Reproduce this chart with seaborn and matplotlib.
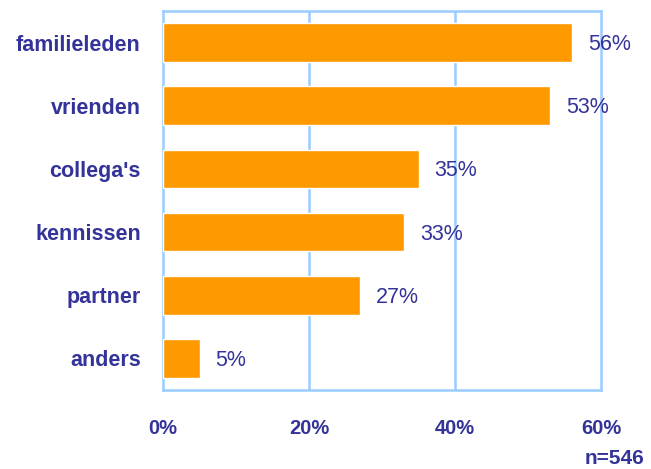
import matplotlib
matplotlib.use("Agg")
import matplotlib.pyplot as plt
import seaborn as sns
import pandas as pd

categories = ["familieleden", "vrienden", "collega's", "kennissen", "partner", "anders"]
values = [56, 53, 35, 33, 27, 5]
xticks = [0, 20, 40, 60]
xtick_labels = ["0%", "20%", "40%", "60%"]
note = "n=546"

sns.set_theme(style="white")
plt.rcParams["font.family"] = ["Liberation Sans", "DejaVu Sans"]

text_col = "#333399"
frame_col = "#99CCFF"
bar_col = "#FF9900"

df = pd.DataFrame({"cat": categories, "val": values})

fig = plt.figure(figsize=(6.51, 4.69), dpi=100)
ax = fig.add_axes([163/651, 1 - 390/469, (601-163)/651, (390-11)/469])

sns.barplot(data=df, x="val", y="cat", orient="h", color=bar_col, saturation=1,
            width=0.61, ax=ax, zorder=3)

ax.set_xlim(0, 60)
ax.set_ylim(5.5, -0.5)
ax.set_xticks(xticks)
ax.set_xticklabels(xtick_labels)
ax.set_xlabel("")
ax.set_ylabel("")
for s in ax.spines.values():
    s.set_color(frame_col)
    s.set_linewidth(1.8)
    s.set_visible(True)
ax.grid(False)
for x in xticks[1:-1]:
    ax.axvline(x, color=frame_col, lw=1.8, zorder=1)

ax.tick_params(axis="x", length=0, pad=21, labelsize=14.5, labelcolor=text_col)
ax.tick_params(axis="y", length=0, pad=16, labelsize=15.5, labelcolor=text_col)
for lbl in ax.get_xticklabels() + ax.get_yticklabels():
    lbl.set_fontweight("bold")

for i, v in enumerate(values):
    ax.annotate(f"{v}%", xy=(v, i), xytext=(16, -2), textcoords="offset pixels",
                va="center", ha="left", fontsize=15.5, color=text_col, zorder=5)

fig.text(644/651, 1 - 458/469, note, ha="right", va="center", fontsize=15,
         fontweight="bold", color=text_col)

fig.savefig("out.png", dpi=100)
